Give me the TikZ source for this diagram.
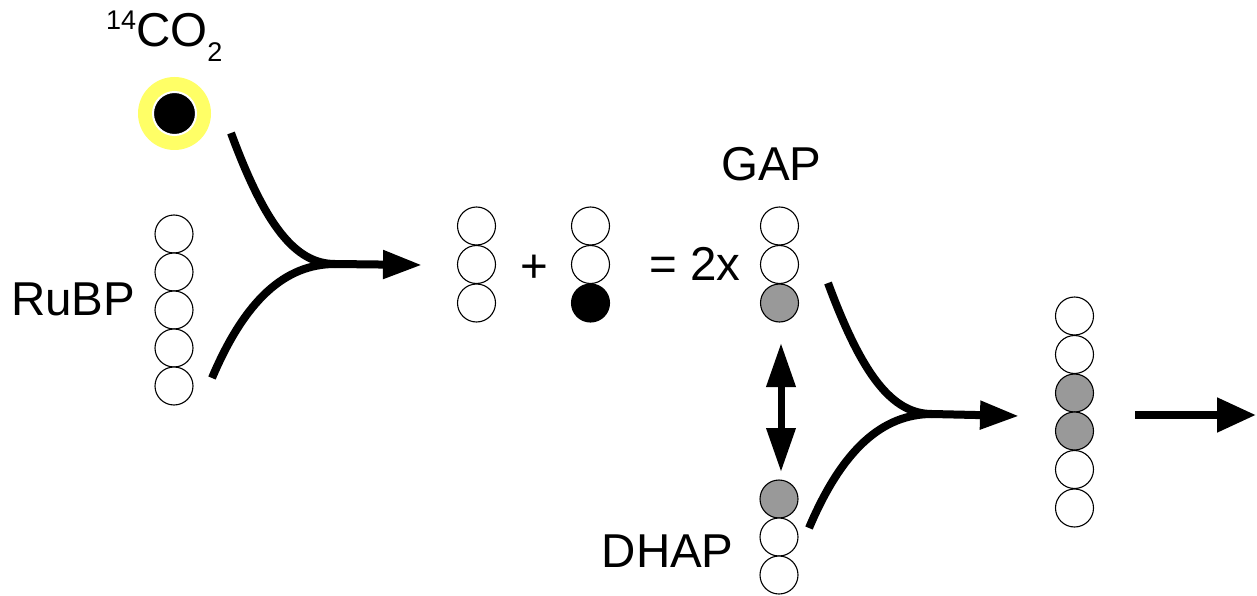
\documentclass[tikz,border=0pt]{standalone}
\usepackage{fontspec}
\setmainfont{Liberation Sans}
\usetikzlibrary{arrows.meta}
\definecolor{atomgray}{HTML}{999999}
\definecolor{glow}{HTML}{FFFF66}
\begin{document}
\begin{tikzpicture}[x=1pt,y=-1pt,
  atom/.style={circle,draw=black,line width=1.1pt,minimum size=38pt,inner sep=0pt,fill=white},
  gatom/.style={atom,fill=atomgray},
  batom/.style={atom,fill=black},
  lbl/.style={inner sep=0pt,anchor=base west,font=\fontsize{47.5}{56}\selectfont},
  flow/.style={line width=8pt},
  bigtip/.style={-{Triangle[length=39pt,width=27pt]}},
  dbltip/.style={{Triangle[length=44pt,width=28pt]}-{Triangle[length=44pt,width=28pt]}}
]
\useasboundingbox (0,0) rectangle (1257,596);

% 14CO2
\node[lbl] (co2lbl) at (106,47) {{\fontsize{27}{27}\selectfont\raisebox{17pt}{14}}CO{\fontsize{27}{27}\selectfont\raisebox{-15pt}{2}}};
\node[circle,fill=glow,minimum size=73pt,inner sep=0pt] (co2glow) at (174.5,113.5) {};
\node[circle,fill=black,draw=white,line width=2pt,minimum size=43pt,inner sep=0pt] (co2) at (174.5,113.5) {};

% RuBP
\node[lbl] (rubplbl) at (11,315) {RuBP};
\node[atom] (r1) at (174,234) {};
\node[atom] (r2) at (174,272) {};
\node[atom] (r3) at (174,310) {};
\node[atom] (r4) at (174,348) {};
\node[atom] (r5) at (174,386) {};

% first merge arrow
\coordinate (u1) at (231,133);
\coordinate (l1) at (212,378);
\coordinate (j1) at (335,264);
\coordinate (t1) at (422,265);
\draw[flow] (u1) .. controls (265,225) and (295,264) .. (j1);
\draw[flow] (l1) .. controls (245,300) and (285,264) .. (j1);
\draw[flow,bigtip] (j1) -- (t1);

% products
\node[atom] (a1) at (476.5,226) {};
\node[atom] (a2) at (476.5,264.5) {};
\node[atom] (a3) at (476.5,303) {};
\node[lbl,anchor=base] (plus) at (534,282) {+};
\node[atom] (b1) at (590.5,226) {};
\node[atom] (b2) at (590.5,264.5) {};
\node[batom] (b3) at (590.5,303) {};
\node[lbl] (eq) at (649,280) {= 2x};

% GAP
\node[lbl] (gaplbl) at (721,180) {GAP};
\node[atom] (g1) at (779.5,226) {};
\node[atom] (g2) at (779.5,264.5) {};
\node[gatom] (g3) at (779.5,303) {};

% DHAP
\node[lbl] (dhaplbl) at (601.5,567) {DHAP};
\node[gatom] (d1) at (779,499) {};
\node[atom] (d2) at (779,537) {};
\node[atom] (d3) at (779,575) {};

% isomerisation
\coordinate (iso1) at (781,343);
\coordinate (iso2) at (781,472);
\draw[line width=7pt,dbltip] (iso1) -- (iso2);

% second merge arrow
\coordinate (u2) at (828,283);
\coordinate (l2) at (809,528);
\coordinate (j2) at (932,414);
\coordinate (t2) at (1019,416);
\draw[flow] (u2) .. controls (862,375) and (892,414) .. (j2);
\draw[flow] (l2) .. controls (842,450) and (882,414) .. (j2);
\draw[flow,bigtip] (j2) -- (t2);

% hexose
\node[atom] (h1) at (1074.5,316) {};
\node[atom] (h2) at (1074.5,354.5) {};
\node[gatom] (h3) at (1074.5,393) {};
\node[gatom] (h4) at (1074.5,431) {};
\node[atom] (h5) at (1074.5,469.5) {};
\node[atom] (h6) at (1074.5,508) {};

% final arrow
\coordinate (f1) at (1135,415);
\coordinate (f2) at (1256,415);
\draw[flow,-{Triangle[length=39pt,width=33pt]}] (f1) -- (f2);
\end{tikzpicture}
\end{document}
